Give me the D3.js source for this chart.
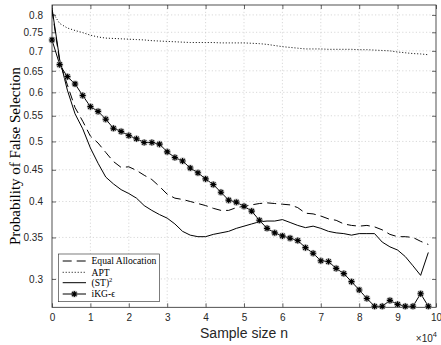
<!DOCTYPE html>
<html>
<head>
<meta charset="utf-8">
<script src="https://cdn.jsdelivr.net/npm/d3@7"></script>
<style>
  body { margin: 0; background: #fff; }
  svg { display: block; }
</style>
</head>
<body>
<svg id="chart" width="441" height="345"></svg>
<script>
// Sample sizes n = 0, 2000, ..., 98000
const sampleSizes = d3.range(0, 100000, 2000);

const equalAllocation = [
  0.815, 0.672, 0.617, 0.567, 0.539, 0.510, 0.497, 0.480, 0.464, 0.454,
  0.455, 0.449, 0.441, 0.434, 0.423, 0.411, 0.405, 0.403, 0.400, 0.397,
  0.394, 0.390, 0.387, 0.387, 0.391, 0.393, 0.395, 0.397, 0.398, 0.397,
  0.396, 0.395, 0.391, 0.383, 0.382, 0.379, 0.375, 0.373, 0.368, 0.366,
  0.365, 0.366, 0.364, 0.360, 0.354, 0.351, 0.351, 0.350, 0.345, 0.341
];

const apt = [
  0.810, 0.775, 0.762, 0.755, 0.749, 0.742, 0.737, 0.734, 0.733, 0.732,
  0.731, 0.730, 0.729, 0.727, 0.726, 0.725, 0.724, 0.723, 0.722, 0.722,
  0.722, 0.722, 0.721, 0.721, 0.721, 0.721, 0.720, 0.719, 0.717, 0.714,
  0.711, 0.709, 0.707, 0.705, 0.705, 0.705, 0.704, 0.704, 0.704, 0.704,
  0.703, 0.703, 0.702, 0.701, 0.700, 0.697, 0.695, 0.693, 0.692, 0.690
];

const st2 = [
  0.820, 0.678, 0.605, 0.554, 0.524, 0.488, 0.461, 0.438, 0.427, 0.418,
  0.412, 0.405, 0.394, 0.387, 0.381, 0.376, 0.368, 0.358, 0.353, 0.351,
  0.351, 0.354, 0.356, 0.358, 0.362, 0.365, 0.368, 0.371, 0.372, 0.372,
  0.374, 0.370, 0.366, 0.363, 0.365, 0.362, 0.358, 0.356, 0.355, 0.353,
  0.355, 0.355, 0.355, 0.344, 0.338, 0.334, 0.326, 0.315, 0.304, 0.331
];

const ikg = [
  0.729, 0.665, 0.636, 0.619, 0.593, 0.569, 0.559, 0.543, 0.525, 0.519,
  0.511, 0.505, 0.498, 0.498, 0.495, 0.481, 0.471, 0.465, 0.453, 0.445,
  0.435, 0.426, 0.414, 0.402, 0.399, 0.393, 0.386, 0.373, 0.362, 0.356,
  0.352, 0.349, 0.346, 0.337, 0.330, 0.321, 0.320, 0.312, 0.306, 0.297,
  0.288, 0.279, 0.271, 0.271, 0.277, 0.273, 0.271, 0.271, 0.284, 0.271
];

const yTicks = [0.3, 0.35, 0.4, 0.45, 0.5, 0.55, 0.6, 0.65, 0.7, 0.75, 0.8];
const xTicks = [0, 10000, 20000, 30000, 40000, 50000, 60000, 70000, 80000, 90000, 100000];
const xTickLabels = ["0", "1", "2", "3", "4", "5", "6", "7", "8", "9", "10"];

const seriesNames = ["Equal Allocation", "APT", "(ST)", "iKG-ϵ"];

(function () {
  const svg = d3.select("#chart");
  const m = { left: 52, right: 436, top: 5, bottom: 307.3 };
  const axisColor = "#262626";

  const x = d3.scaleLinear().domain([0, 100000]).range([m.left, m.right]);
  const y = d3.scaleLog().domain([0.27, 0.83]).range([m.bottom, m.top]);

  svg.append("defs").append("clipPath").attr("id", "plotClip")
    .append("rect").attr("x", m.left).attr("y", m.top)
    .attr("width", m.right - m.left).attr("height", m.bottom - m.top);

  // dotted grid
  const grid = svg.append("g").attr("stroke", "#c9c9c9").attr("stroke-width", 0.7)
    .attr("stroke-dasharray", "1.2,2.2");
  grid.selectAll("line.gx").data(xTicks.slice(1, -1)).join("line").attr("class", "gx")
    .attr("x1", d => x(d)).attr("x2", d => x(d)).attr("y1", m.top).attr("y2", m.bottom);
  grid.selectAll("line.gy").data(yTicks).join("line").attr("class", "gy")
    .attr("y1", d => y(d)).attr("y2", d => y(d)).attr("x1", m.left).attr("x2", m.right);

  const tickFont = "'Liberation Sans', Arial, Helvetica, sans-serif";
  const xAxis = svg.append("g").attr("transform", `translate(0,${m.bottom})`)
    .call(d3.axisBottom(x).tickValues(xTicks).tickSizeInner(-4).tickSizeOuter(0)
      .tickPadding(7).tickFormat((d, i) => xTickLabels[i]));
  const yAxis = svg.append("g").attr("transform", `translate(${m.left},0)`)
    .call(d3.axisLeft(y).tickValues(yTicks).tickSizeInner(-4).tickSizeOuter(0)
      .tickPadding(9).tickFormat(d => String(+d.toFixed(2))));
  const xAxisTop = svg.append("g").attr("transform", `translate(0,${m.top})`)
    .call(d3.axisTop(x).tickValues(xTicks).tickSizeInner(-4).tickSizeOuter(0).tickFormat(""));
  const yAxisRight = svg.append("g").attr("transform", `translate(${m.right},0)`)
    .call(d3.axisRight(y).tickValues(yTicks).tickSizeInner(-4).tickSizeOuter(0).tickFormat(""));

  [xAxis, yAxis, xAxisTop, yAxisRight].forEach(g => {
    g.select(".domain").remove();
    g.selectAll(".tick line").attr("stroke", axisColor).attr("stroke-width", 0.7);
    g.selectAll(".tick text").attr("fill", axisColor)
      .style("font-family", tickFont).style("font-size", "10px");
  });

  svg.append("rect").attr("x", m.left).attr("y", m.top)
    .attr("width", m.right - m.left).attr("height", m.bottom - m.top)
    .attr("fill", "none").attr("stroke", axisColor).attr("stroke-width", 0.8);

  // series lines
  const plot = svg.append("g").attr("clip-path", "url(#plotClip)");
  const line = d3.line().x(d => x(d[0])).y(d => y(d[1]));
  const zip = vals => sampleSizes.map((n, i) => [n, vals[i]]);

  const styles = [
    { data: equalAllocation, dash: "9,5" },
    { data: apt, dash: "1,2" },
    { data: st2, dash: null },
    { data: ikg, dash: null }
  ];
  styles.forEach(s => {
    plot.append("path").datum(zip(s.data))
      .attr("d", line).attr("fill", "none")
      .attr("stroke", "#000").attr("stroke-width", 1)
      .attr("stroke-dasharray", s.dash);
  });

  // asterisk markers
  const starPath = "M-3,0H3M0,-3V3M-2.2,-2.2L2.2,2.2M-2.2,2.2L2.2,-2.2";
  function drawStar(g) {
    g.append("circle").attr("r", 3.6).attr("fill", "#9a9a9a").attr("opacity", 0.55);
    g.append("path").attr("d", starPath).attr("stroke", "#000").attr("stroke-width", 1.1);
  }
  svg.append("g").selectAll("g").data(zip(ikg)).join("g")
    .attr("transform", d => `translate(${x(d[0])},${y(d[1])})`)
    .each(function () { drawStar(d3.select(this)); });

  // axis labels
  svg.append("text")
    .attr("transform", `translate(20,${(m.top + m.bottom) / 2}) rotate(-90)`)
    .attr("text-anchor", "middle")
    .style("font-family", "'Liberation Serif', 'Times New Roman', serif")
    .style("font-size", "15px").attr("fill", "#000")
    .text("Probability of False Selection");

  svg.append("text")
    .attr("x", (m.left + m.right) / 2).attr("y", 337.5)
    .attr("text-anchor", "middle")
    .style("font-family", tickFont).style("font-size", "14px").attr("fill", axisColor)
    .text("Sample size n");

  const expo = svg.append("text")
    .attr("x", 437).attr("y", 341.5).attr("text-anchor", "end")
    .style("font-family", tickFont).style("font-size", "10px").attr("fill", axisColor);
  expo.append("tspan").text("×10");
  expo.append("tspan").attr("dy", -4.5).style("font-size", "7.5px").text("4");

  // legend
  const lg = svg.append("g");
  lg.append("rect").attr("x", 58.3).attr("y", 254).attr("width", 101).attr("height", 47.7)
    .attr("fill", "#fff").attr("stroke", axisColor).attr("stroke-width", 0.6);
  const legendY = [261, 272.3, 282.7, 294];
  const serif = "'Liberation Serif', 'Times New Roman', serif";
  seriesNames.forEach((name, i) => {
    const ly = legendY[i];
    lg.append("line").attr("x1", 62.7).attr("x2", 86).attr("y1", ly).attr("y2", ly)
      .attr("stroke", "#000").attr("stroke-width", 1)
      .attr("stroke-dasharray", styles[i].dash);
    const t = lg.append("text").attr("x", 91.5).attr("y", ly + 3.2)
      .style("font-family", serif).style("font-size", "9.6px").attr("fill", "#000");
    t.append("tspan").text(name);
    if (i === 2) t.append("tspan").attr("dy", -3.5).style("font-size", "6.5px").text("2");
    if (i === 3) drawStar(lg.append("g").attr("transform", `translate(74.3,${ly})`));
  });
})();
</script>
</body>
</html>
